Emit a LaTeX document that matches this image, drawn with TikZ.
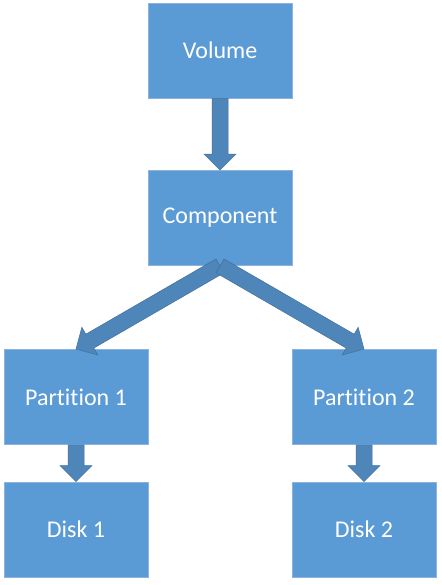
\documentclass[tikz,border=0pt]{standalone}
\usepackage{fontspec}
\setmainfont{Carlito}[RawFeature={-liga}]
\usetikzlibrary{calc}
\definecolor{boxfill}{HTML}{5B9BD5}
\definecolor{boxedge}{HTML}{8DB3DC}
\definecolor{arrfill}{HTML}{4E86BA}
\definecolor{arredge}{HTML}{41719C}
\newcommand{\blockarr}[2]{%
  \fill[arrfill,draw=arredge,line width=0.5pt,line join=miter]
    ($(#1)!8pt!90:(#2)$) --
    ($($(#2)!16pt!(#1)$)!8pt!90:(#2)$) --
    ($($(#2)!16pt!(#1)$)!16pt!90:(#2)$) --
    (#2) --
    ($($(#2)!16pt!(#1)$)!16pt!-90:(#2)$) --
    ($($(#2)!16pt!(#1)$)!8pt!-90:(#2)$) --
    ($(#1)!8pt!-90:(#2)$) -- cycle;}
\begin{document}
\begin{tikzpicture}[x=1pt,y=-1pt,
  box/.style={rectangle,fill=boxfill,draw=boxedge,line width=0.75pt,
    minimum width=144pt,minimum height=95pt,inner sep=0pt,
    text=white,font=\fontsize{24}{28}\selectfont}]
\useasboundingbox[fill=white] (0,0) rectangle (441,585);
\node[box] (vol) at (220,50.5) {Volume};
\node[box] (comp) at (220,218) {Component};
\node[box] (p1) at (76,397) {Partition 1};
\node[box] (p2) at (364,397) {Partition 2};
\node[box] (d1) at (76,529.5) {Disk 1};
\node[box] (d2) at (364,529.5) {Disk 2};
\blockarr{vol.south}{comp.north}
\blockarr{comp.south}{p1.north}
\blockarr{comp.south}{p2.north}
\blockarr{p1.south}{d1.north}
\blockarr{p2.south}{d2.north}
\end{tikzpicture}
\end{document}
